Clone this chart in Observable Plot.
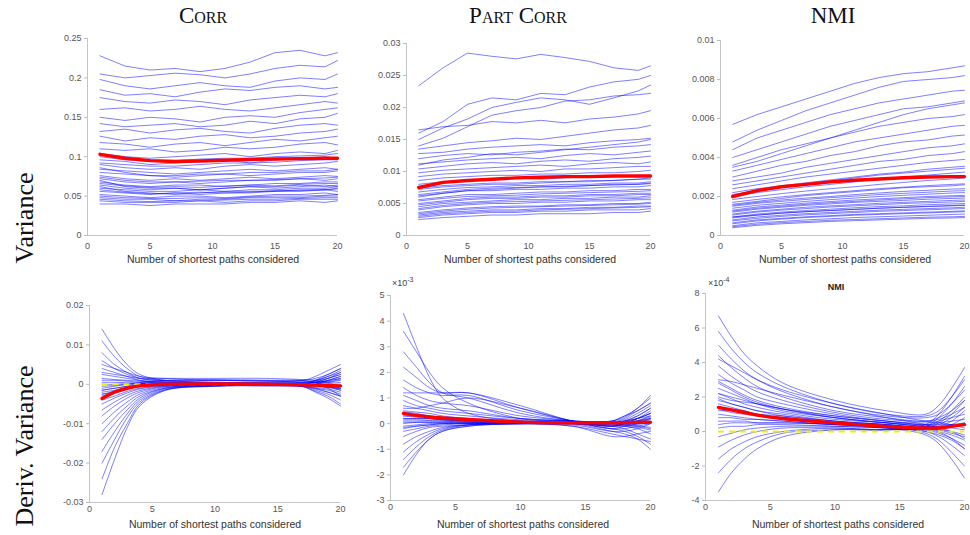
<!DOCTYPE html>
<html><head><meta charset="utf-8">
<script src="https://cdn.jsdelivr.net/npm/d3@7"></script>
<script src="https://cdn.jsdelivr.net/npm/@observablehq/plot@0.6"></script>
<style>
body{margin:0;background:#fff;}
#wrap{position:relative;width:970px;height:535px;overflow:hidden;background:#fff;font-family:"Liberation Sans",Arial,sans-serif;}
.panel{position:absolute;}
.title{position:absolute;font-family:"Liberation Serif","Times New Roman",serif;font-variant:small-caps;font-size:23px;color:#111;transform:translateX(-50%);white-space:nowrap;line-height:1;}
.xlab{position:absolute;font-size:10.5px;color:#333;transform:translate(-50%,-50%);white-space:nowrap;}
.rowlab{position:absolute;font-family:"Liberation Serif","Times New Roman",serif;font-size:26px;color:#111;transform:translate(-50%,-50%) rotate(-90deg);white-space:nowrap;}
.exp{position:absolute;font-size:9px;color:#444;white-space:nowrap;}
.exp sup{font-size:7px;}
.small{position:absolute;font-size:9px;font-weight:bold;color:#222;transform:translate(-50%,-50%);}
</style></head><body><div id="wrap"></div><script>
// ---------- text ----------
const colTitles = ["Corr", "Part Corr", "NMI"];
const rowLabels = ["Variance", "Deriv. Variance"];
const xAxisLabel = "Number of shortest paths considered";
const xTicks = [0, 5, 10, 15, 20];

// ---------- x positions of the sampled values ----------
const xsTop = [1, 3, 5, 7, 9, 11, 13, 15, 17, 19, 20];
const xsBot = [1, 2, 3, 4, 6, 10, 14, 17, 18, 19, 20];

// ---------- Corr variance (units of 1e-3) ----------
const corrVar = [
[228,215,210,212,208,212,220,232,235,228,232],
[205,200,203,206,204,200,205,212,216,214,222],
[198,190,186,190,194,190,188,196,200,198,205],
[185,178,180,176,182,186,184,188,190,186,188],
[175,170,168,172,170,166,172,175,178,176,180],
[160,162,158,160,164,160,158,162,166,170,168],
[150,146,150,148,144,150,152,150,156,160,162],
[142,138,140,142,138,140,145,142,148,150,155],
[132,135,130,134,136,132,130,136,140,142,140],
[126,120,124,122,126,128,124,126,130,132,135],
[118,116,112,116,118,114,118,122,120,124,126],
[110,108,110,106,108,112,110,112,116,118,115],
[104,100,98,100,102,104,100,104,106,104,108],
[96,94,90,92,94,96,92,96,98,100,98],
[90,86,84,86,84,88,90,88,90,92,94],
[84,82,80,78,80,82,84,82,84,86,84],
[80,78,76,74,76,78,76,78,80,80,82],
[76,72,70,72,70,72,74,72,74,76,75],
[72,68,66,68,66,68,70,70,72,70,72],
[68,64,62,64,64,62,64,66,66,68,68],
[64,60,58,60,58,60,62,60,62,64,62],
[60,58,56,56,58,56,58,58,60,60,62],
[56,54,52,54,52,54,54,56,56,58,56],
[52,50,48,50,50,48,50,52,52,54,52],
[48,46,46,44,46,46,48,48,48,50,50],
[44,42,42,42,44,42,44,44,46,46,46],
[40,40,38,40,40,40,42,42,44,42,44],
[62,56,54,52,54,56,56,56,58,58,60],
[70,62,60,60,58,60,62,62,64,62,64],
[86,80,76,76,78,78,80,80,82,82,84],
[58,55,53,54,55,54,55,57,57,58,59],
[66,63,61,62,61,63,64,63,65,66,66],
[74,70,68,68,69,70,70,71,72,73,74],
[50,48,47,47,48,47,49,50,50,51,52],
[92,90,88,88,90,92,92,93,95,96,96],
[100,96,94,95,97,98,98,100,101,102,104],
[46,44,43,44,44,45,46,46,47,48,48]
];
const corrVarMean = [103,98,95,94,94.5,95.5,96.5,97,97.5,98,98];

// ---------- Part Corr variance (units of 1e-4) ----------
const partVar = [
[234,262,285,280,276,283,278,272,262,258,265],
[160,178,205,215,212,222,220,232,240,244,250],
[150,168,182,200,208,215,212,205,215,226,235],
[140,152,170,188,195,200,210,212,218,220,222],
[165,170,172,178,176,180,176,182,185,190,195],
[135,140,145,148,152,150,155,160,165,168,172],
[128,130,135,138,140,142,140,145,148,150,152],
[120,125,128,126,130,132,135,134,138,140,142],
[112,115,118,120,122,120,125,128,126,130,132],
[104,108,112,114,112,116,118,116,120,122,124],
[98,102,104,106,108,110,108,112,114,112,115],
[92,96,98,100,102,100,104,104,106,108,108],
[86,90,92,94,94,96,96,98,98,100,102],
[80,84,86,88,90,88,90,92,92,94,94],
[74,78,80,82,82,84,84,86,86,88,88],
[68,72,75,76,78,78,80,80,82,82,84],
[62,66,70,70,72,72,74,74,76,76,78],
[56,60,64,64,66,68,68,70,70,72,72],
[50,54,58,60,60,62,62,64,64,66,66],
[45,50,52,54,56,56,58,58,60,60,62],
[40,45,48,50,50,52,52,54,54,56,56],
[36,40,43,45,46,46,48,48,50,50,52],
[32,36,38,40,40,42,42,44,44,46,46],
[28,32,34,36,36,38,38,40,40,40,42],
[25,28,30,32,32,34,34,34,36,36,38],
[110,118,122,128,126,130,134,138,142,146,150],
[60,66,70,72,74,76,76,78,80,80,82],
[48,52,56,58,58,60,60,62,62,64,64],
[34,38,41,43,44,45,46,47,48,49,50],
[42,47,50,52,53,54,55,56,57,58,59],
[54,58,61,62,63,65,66,67,68,69,70],
[64,68,72,74,75,76,77,78,79,80,81],
[30,34,36,38,38,40,41,42,43,44,45],
[72,76,78,80,80,82,84,84,86,88,90]
];
const partVarMean = [75,83,86,88,90,91,92,92,93,93,93];

// ---------- NMI variance (units of 1e-5) ----------
const nmiVar = [
[570,620,660,700,740,780,810,830,840,860,870],
[480,540,590,640,680,720,760,790,800,810,820],
[440,500,540,580,620,650,680,700,720,740,745],
[400,440,480,520,560,590,620,650,660,680,690],
[360,400,440,470,500,530,560,580,600,610,620],
[330,360,390,420,450,480,500,520,540,560,565],
[300,330,360,380,410,430,460,480,490,510,515],
[280,300,320,350,370,390,410,430,450,460,470],
[260,280,300,320,340,360,380,390,410,420,430],
[240,260,280,300,315,330,345,360,375,385,390],
[220,240,255,270,285,300,315,325,340,350,355],
[200,220,235,250,262,275,290,300,310,320,325],
[185,200,215,228,240,250,262,272,282,290,295],
[170,185,198,210,220,230,240,248,256,262,265],
[155,170,182,192,200,210,218,226,232,238,240],
[140,155,165,175,184,192,200,206,212,218,220],
[125,140,150,160,168,175,182,188,194,198,200],
[110,125,135,145,152,158,165,170,175,180,182],
[95,110,120,128,135,142,148,152,158,162,164],
[80,95,104,112,118,124,130,134,138,142,145],
[65,80,88,96,102,108,112,116,120,124,126],
[50,65,72,80,86,92,96,100,104,108,110],
[40,52,60,66,72,76,80,84,88,90,92],
[160,175,190,205,215,225,235,245,250,255,260],
[210,230,250,265,280,295,310,320,330,340,345],
[120,135,145,155,162,170,175,180,186,190,192],
[95,105,115,122,128,134,140,144,148,152,155],
[350,380,420,460,500,540,580,620,650,670,680],
[60,75,84,92,98,104,108,112,116,120,122],
[75,88,98,106,112,118,124,128,132,136,138],
[90,104,114,122,128,134,140,145,150,154,156],
[105,120,130,138,146,152,158,164,168,172,175],
[130,146,156,166,174,182,188,194,200,204,206],
[150,165,175,185,194,202,210,216,222,228,230],
[45,58,66,72,78,82,86,90,94,96,98]
];
const nmiVarMean = [200,230,250,262,275,283,290,296,300,302,302];

// ---------- Corr derivative (units of 1e-3) ----------
const corrDer = [
[14,9,5,2.5,1,1,0.8,1,2,3.5,5],
[11,7,4,2,1,0.5,0.5,1,1.5,2.5,4],
[8,5,3,1.5,1,0.5,0.5,0.5,1,2,3],
[6,4,2.5,1.5,0.8,0.3,0.3,0.5,1,1.5,2.5],
[4,3,2,1,0.5,0.2,0.2,0.3,0.5,1,2],
[2.5,2,1.5,1,0.5,0.2,0,0.2,0.5,0.8,1.5],
[1,1,0.8,0.5,0.3,0,0,0,0.3,0.5,1],
[0,0,0.2,0.3,0.2,0,0,0,0,0.2,0.5],
[-1,-0.5,0,0.2,0.2,0,0,0,-0.2,-0.3,-0.5],
[-2,-1.5,-0.8,-0.3,0,0,0,-0.2,-0.5,-0.8,-1],
[-3,-2,-1.2,-0.6,-0.2,0,-0.2,-0.3,-0.8,-1.2,-2],
[-4,-3,-1.8,-1,-0.3,0,-0.2,-0.3,-1,-1.5,-2.5],
[-5,-3.5,-2.2,-1.2,-0.4,-0.2,-0.3,-0.5,-1.2,-2,-3],
[-6.5,-4.5,-2.8,-1.6,-0.5,-0.2,-0.2,-0.5,-1.5,-2.5,-4],
[-8,-5.5,-3.5,-2,-0.6,-0.3,-0.3,-0.6,-1.8,-3,-5],
[-10,-7,-4.5,-2.5,-0.8,-0.3,-0.4,-0.6,-2,-3.5,-5.5],
[-12,-8.5,-5.5,-3,-1,-0.3,-0.4,-0.5,-1,-2,-3],
[-14,-10,-6.5,-3.5,-1,-0.3,-0.3,-0.3,0,1,2],
[-17,-12,-7.5,-4,-1.2,-0.4,-0.3,-0.2,0.5,1.5,3],
[-20,-14,-8.5,-4.5,-1.4,-0.4,-0.2,0,1,2.5,4],
[-24,-16,-10,-5,-1.5,-0.5,-0.3,0,0.8,2,3.5],
[-28,-19,-11,-5.5,-1.6,-0.5,-0.3,-0.2,0.5,1.5,2.5],
[3,2.5,2,1.5,1.5,1.5,1.5,1.2,1,0.5,0],
[-1.5,-1,-0.5,0.5,1,1.2,1,0.8,0.5,0,-1],
[5,4,3,2,1.5,1,1,1,0.5,-0.5,-1.5],
[-2.5,-2,-1,0,0.8,1,0.8,0.5,0,-1,-3],
[1.5,1.2,1,0.8,0.5,0.3,0.3,0.3,0.5,1,1.5],
[-0.5,-0.3,0,0.2,0.3,0.3,0.2,0.2,0,-0.5,-1],
[-1.5,-1,-0.5,-0.2,0,0.2,0.2,0,-0.3,-0.6,-1.2],
[0.5,0.5,0.4,0.3,0.2,0.2,0.1,0,0.2,0.6,1.2],
[-2.5,-1.8,-1,-0.5,-0.1,0.1,0,-0.1,-0.4,-0.8,-1.5]
];
const corrDerMean = [-3.6,-2,-1,-0.4,0,0.1,0,-0.1,-0.2,-0.3,-0.4];

// ---------- Part Corr derivative (units of 1e-4) ----------
const partDer = [
[43,30,18,10,4,1,0.5,0.5,2,5,8],
[36,28,20,14,8,2,1,1,3,6,10],
[28,22,16,12,10,4,1,0,1,3,6],
[22,18,14,12,12,6,1,-1,0,2,4],
[17,14,12,11,11,5,1,-2,-1,1,3],
[14,11,9,8,7,3,1,-1,0,2,5],
[11,9,7,6,5,2,1,0,1,3,6],
[9,7,6,5,4,2,1,0.5,1,2,4],
[7,6,5,4,3,1.5,1,0.5,0.5,1,2],
[5,4.5,4,3,2,1,0.5,0.5,0,0,0],
[4,3.5,3,2.5,1.5,1,0.5,0,-0.5,-1,-2],
[3,3,2.5,2,1.5,0.5,0.5,0,-1,-2,-4],
[2,2,2,1.5,1,0.5,0,-1,-2,-4,-6],
[1,1,1,1,0.5,0.5,0,-2,-3,-5,-8],
[0,0.5,0.5,0.5,0.5,0,0,-3,-4,-6,-10],
[-1,-0.5,0,0,0,0,-1,-4,-5,-6,-7],
[-2,-1,-0.5,0,0,0,-1,-5,-5,-4,-3],
[-3,-2,-1,-0.5,0,0,-0.5,-3,-3,-2,0],
[-5,-3,-1.5,-1,-0.5,0,0,-1,-1,0,2],
[-8,-5,-3,-1.5,-0.5,0,0,0,0.5,2,4],
[-11,-7,-4,-2,-0.5,0,0,0.5,1.5,4,7],
[-14,-9,-5,-2.5,-0.5,0,0.5,1,2.5,6,11],
[-17,-11,-6,-3,-1,0,0.5,1,3,5,8],
[-20,-12,-6,-3,-1,0,0,0,1,2,3],
[6,6,7,8,10,6,1,-2,-2,-1,0],
[12,12,12,12,12,7,1,-1,0,1,2],
[3,2.5,2,1.5,1,0.5,0.3,0.2,0.3,0.5,1],
[1.5,1.5,1.2,1,0.8,0.3,0.2,0,-0.3,-0.8,-1.5],
[-1.5,-1,-0.5,0,0.2,0.2,0,-0.5,-0.5,-0.3,0.5],
[4.5,4,3,2.5,1.5,0.8,0.3,0,0.2,0.8,1.5],
[0.5,0.5,0.5,0.5,0.3,0.2,0.1,-0.5,-1,-1.5,-2.5],
[2,2,1.8,1.5,1.2,0.6,0.3,0.2,0.5,1.2,2.5]
];
const partDerMean = [4,3.2,2.6,2.2,1.6,0.6,0.3,0.3,0.4,0.5,0.5];

// ---------- NMI derivative (units of 1e-4) ----------
const nmiDer = [
[6.7,5.5,4.5,3.8,2.8,1.8,1.2,1.0,1.5,2.5,3.7],
[5.8,4.8,4.0,3.4,2.6,1.6,1.0,0.9,1.2,2.0,3.0],
[5.0,4.2,3.5,3.0,2.3,1.4,0.9,0.8,1.0,1.6,2.4],
[4.4,3.7,3.1,2.6,2.0,1.2,0.8,0.6,0.8,1.2,1.8],
[3.8,3.2,2.7,2.3,1.8,1.1,0.7,0.6,0.7,1.0,1.4],
[3.3,2.8,2.4,2.0,1.6,1.0,0.6,0.5,0.6,0.8,1.0],
[2.9,2.5,2.1,1.8,1.4,0.9,0.6,0.4,0.5,0.6,0.7],
[2.5,2.2,1.9,1.6,1.2,0.8,0.5,0.4,0.4,0.4,0.4],
[2.2,1.9,1.6,1.4,1.1,0.7,0.5,0.3,0.3,0.2,0.1],
[1.9,1.6,1.4,1.2,0.9,0.6,0.4,0.2,0.1,-0.1,-0.3],
[1.6,1.4,1.2,1.0,0.8,0.5,0.4,0.1,-0.1,-0.4,-0.8],
[1.3,1.1,1.0,0.9,0.7,0.5,0.3,0.0,-0.3,-0.8,-1.4],
[1.0,0.9,0.8,0.7,0.6,0.4,0.3,-0.1,-0.5,-1.2,-2.0],
[0.6,0.6,0.6,0.5,0.5,0.4,0.2,-0.2,-0.7,-1.6,-2.7],
[0.2,0.3,0.3,0.4,0.4,0.3,0.2,0.0,-0.2,-0.5,-1.0],
[-0.3,-0.1,0.1,0.2,0.3,0.3,0.2,0.1,0.2,0.4,0.8],
[-0.9,-0.5,-0.2,0.0,0.2,0.2,0.1,0.2,0.5,1.0,1.8],
[-1.6,-1.0,-0.6,-0.3,0.0,0.2,0.1,0.3,0.8,1.6,2.6],
[-2.4,-1.6,-1.0,-0.6,-0.1,0.1,0.1,0.4,1.0,2.0,3.2],
[-3.5,-2.4,-1.6,-1.0,-0.3,0.1,0.1,0.3,0.6,1.2,2.0],
[4.2,3.8,3.4,3.0,2.4,1.6,1.0,0.6,0.5,0.4,0.2],
[3.0,2.9,2.7,2.5,2.1,1.4,0.8,0.4,0.2,0.0,-0.4],
[2.0,1.8,1.7,1.6,1.3,0.9,0.6,0.3,0.0,-0.4,-1.0],
[1.2,1.2,1.1,1.0,0.9,0.6,0.4,0.2,0.3,0.6,1.2],
[2.8,2.4,2.0,1.7,1.3,0.8,0.5,0.3,0.3,0.4,0.5],
[1.8,1.6,1.4,1.2,1.0,0.6,0.4,0.2,0.2,0.3,0.4],
[1.4,1.3,1.2,1.0,0.8,0.5,0.3,0.2,0.1,0.0,-0.2],
[0.8,0.8,0.7,0.7,0.6,0.4,0.3,0.2,0.2,0.3,0.5],
[2.2,2.0,1.8,1.6,1.3,0.8,0.5,0.3,0.4,0.8,1.4],
[0.4,0.5,0.5,0.5,0.5,0.4,0.2,0.1,0.0,-0.2,-0.5]
];
const nmiDerMean = [1.4,1.25,1.1,0.95,0.75,0.5,0.3,0.2,0.2,0.3,0.4];

// ---------- y ticks ----------
const ticks1 = [0,0.05,0.1,0.15,0.2,0.25], labels1 = ["0","0.05","0.1","0.15","0.2","0.25"];
const ticks2 = [0,0.005,0.01,0.015,0.02,0.025,0.03], labels2 = ["0","0.005","0.01","0.015","0.02","0.025","0.03"];
const ticks3 = [0,0.002,0.004,0.006,0.008,0.01], labels3 = ["0","0.002","0.004","0.006","0.008","0.01"];
const ticks4 = [-0.03,-0.02,-0.01,0,0.01,0.02], labels4 = ["-0.03","-0.02","-0.01","0","0.01","0.02"];
const ticks5 = [-3,-2,-1,0,1,2,3,4,5], labels5 = ["-3","-2","-1","0","1","2","3","4","5"];
const ticks6 = [-4,-2,0,2,4,6,8], labels6 = ["-4","-2","0","2","4","6","8"];

const wrap = document.getElementById("wrap");

function panel(o) {
  const data = [];
  o.lines.forEach((row, i) => row.forEach((v, j) => data.push({id: i, x: o.xs[j], y: v * o.unit})));
  const mean = o.mean.map((v, j) => ({x: o.xs[j], y: v * o.unit}));
  const fmt = new Map(o.ticks.map((t, i) => [t, o.labels[i]]));
  const marks = [
    Plot.ruleX([0], {stroke: "#c4c4c4", strokeWidth: 1}),
    Plot.ruleY([o.yDomain[0]], {stroke: "#c4c4c4", strokeWidth: 1}),
    Plot.line(data, {x: "x", y: "y", z: "id", stroke: "#0000ff", strokeOpacity: 0.5, strokeWidth: 1, curve: o.curve})
  ];
  if (o.zero) marks.push(Plot.ruleY([0], {x1: 1, x2: 20, stroke: "#f0f000", strokeWidth: 2, strokeDasharray: "6,5"}));
  marks.push(Plot.line(mean, {x: "x", y: "y", stroke: "#ff0000", strokeWidth: 3.4, curve: o.curve}));
  marks.push(Plot.axisX({ticks: xTicks, tickSize: 0, tickPadding: o.xpad, label: null, fill: "#555"}));
  marks.push(Plot.axisY({ticks: o.ticks, tickFormat: d => fmt.get(d), tickSize: 3, tickPadding: 3, label: null, fill: "#555", stroke: "#bbb"}));
  const svg = Plot.plot({
    width: o.width, height: o.height,
    marginLeft: o.ml, marginRight: o.mr, marginTop: o.mt, marginBottom: o.mb,
    x: {domain: [0, 20]},
    y: {domain: o.yDomain},
    style: {fontSize: "9px", fontFamily: "'Liberation Sans', Arial, sans-serif", background: "transparent", overflow: "visible"},
    marks
  });
  svg.classList.add("panel");
  svg.style.left = o.left + "px";
  svg.style.top = o.top + "px";
  wrap.appendChild(svg);
}

panel({lines: corrVar, xs: xsTop, unit: 1e-3, mean: corrVarMean, yDomain: [0, 0.25], ticks: ticks1, labels: labels1,
  left: 40, top: 25, width: 310, height: 250, ml: 47, mr: 13, mt: 13, mb: 40, xpad: 7, curve: "linear"});
panel({lines: partVar, xs: xsTop, unit: 1e-4, mean: partVarMean, yDomain: [0, 0.03], ticks: ticks2, labels: labels2,
  left: 360, top: 25, width: 300, height: 250, ml: 46, mr: 10, mt: 18, mb: 40, xpad: 7, curve: "linear"});
panel({lines: nmiVar, xs: xsTop, unit: 1e-5, mean: nmiVarMean, yDomain: [0, 0.01], ticks: ticks3, labels: labels3,
  left: 675, top: 25, width: 295, height: 250, ml: 45, mr: 6, mt: 15, mb: 40, xpad: 7, curve: "linear"});
panel({lines: corrDer, xs: xsBot, unit: 1e-3, mean: corrDerMean, yDomain: [-0.03, 0.02], ticks: ticks4, labels: labels4, zero: true,
  left: 40, top: 285, width: 310, height: 250, ml: 49, mr: 10, mt: 20, mb: 33, xpad: 3, curve: "catmull-rom"});
panel({lines: partDer, xs: xsBot, unit: 1e-1, mean: partDerMean, yDomain: [-3, 5], ticks: ticks5, labels: labels5,
  left: 345, top: 285, width: 315, height: 250, ml: 45, mr: 10, mt: 10, mb: 35, xpad: 3, curve: "catmull-rom"});
panel({lines: nmiDer, xs: xsBot, unit: 1, mean: nmiDerMean, yDomain: [-4, 8], ticks: ticks6, labels: labels6, zero: true,
  left: 660, top: 285, width: 310, height: 250, ml: 45, mr: 6, mt: 8, mb: 35, xpad: 3, curve: "catmull-rom"});

function addDiv(cls, html, x, y) {
  const d = document.createElement("div");
  d.className = cls; d.innerHTML = html;
  d.style.left = x + "px"; d.style.top = y + "px";
  wrap.appendChild(d);
}
addDiv("title", colTitles[0], 203, 4);
addDiv("title", colTitles[1], 518, 4);
addDiv("title", colTitles[2], 833, 4);
addDiv("rowlab", rowLabels[0], 25, 218);
addDiv("rowlab", rowLabels[1], 25, 446);
[[213,259],[530,259],[845,259],[215,524],[523,524],[838,524]].forEach(([x,y]) => addDiv("xlab", xAxisLabel, x, y));
addDiv("exp", "\u00d710<sup>-3</sup>", 392, 276);
addDiv("exp", "\u00d710<sup>-4</sup>", 708, 276);
addDiv("small", "NMI", 836, 287);
</script></body></html>
